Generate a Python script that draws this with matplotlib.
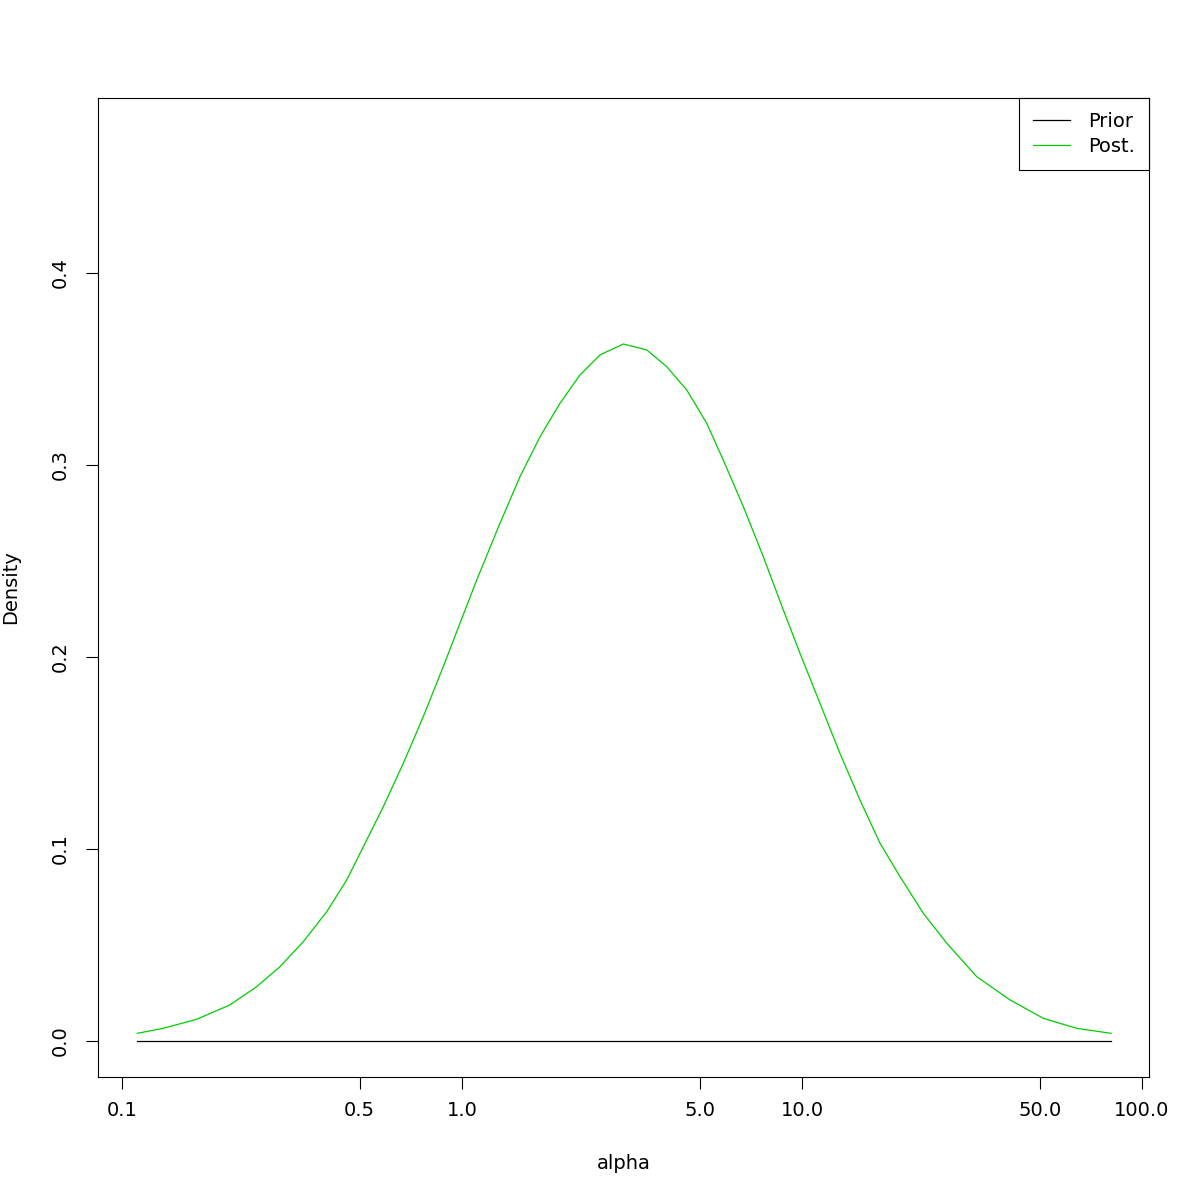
import numpy as np
import matplotlib
matplotlib.use('Agg')
import matplotlib.pyplot as plt

# values (alpha on log axis, posterior density)
alpha = [0.1109, 0.1322, 0.1658, 0.2078, 0.2489, 0.2915, 0.3413, 0.4000, 0.4580, 0.4684,
         0.5868, 0.6720, 0.7693, 0.8810, 0.9865, 1.105, 1.293, 1.481, 1.696,
         1.942, 2.224, 2.546, 2.982, 3.494, 4.000, 4.580, 5.245, 5.868, 6.721,
         7.695, 8.811, 9.865, 11.17, 12.93, 14.81, 16.96, 19.42, 22.74, 26.66,
         32.65, 40.91, 51.27, 64.27, 81.06]
post = [0.0040, 0.0066, 0.0113, 0.0188, 0.0283, 0.0387, 0.0517, 0.0673, 0.0839, 0.0873,
        0.1220, 0.1446, 0.1689, 0.1950, 0.2176, 0.2401, 0.2696, 0.2939, 0.3147,
        0.3321, 0.3469, 0.3573, 0.3630, 0.3599, 0.3512, 0.3391, 0.3217, 0.3025, 0.2783,
        0.2522, 0.2245, 0.2019, 0.1780, 0.1498, 0.1255, 0.1030, 0.0856, 0.0665, 0.0509,
        0.0335, 0.0214, 0.0118, 0.0066, 0.0040]
prior = [0.0] * len(alpha)

xticks = [0.1, 0.5, 1.0, 5.0, 10.0, 50.0, 100.0]
xticklabels = ['0.1', '0.5', '1.0', '5.0', '10.0', '50.0', '100.0']
yticks = [0.0, 0.1, 0.2, 0.3, 0.4]
yticklabels = ['0.0', '0.1', '0.2', '0.3', '0.4']

plt.rcParams['font.family'] = 'DejaVu Sans'

fig = plt.figure(figsize=(12, 12), dpi=100)
ax = fig.add_axes([98/1200, 1-1077/1200, (1149-98)/1200, (1077-98)/1200])

ax.plot(alpha, prior, color='black', lw=0.9, label='Prior')
ax.plot(alpha, post, color='#00CD00', lw=0.9, label='Post.')

ax.set_xscale('log')
ax.set_xlim(10**-1.0706, 10**2.0206)
ax.set_ylim(-0.01875, 0.4911)

ax.set_xticks(xticks)
ax.set_xticklabels(xticklabels)
ax.minorticks_off()
ax.set_yticks(yticks)
ax.set_yticklabels(yticklabels, rotation=90, va='center')

ax.tick_params(direction='out', length=8.5, width=0.8, labelsize=14, pad=9)
ax.tick_params(axis='y', pad=12)
for s in ax.spines.values():
    s.set_linewidth(0.8)

ax.set_xlabel('alpha', fontsize=14, labelpad=24)
ax.set_ylabel('Density', fontsize=14, labelpad=22)

leg = ax.legend(loc='upper right', borderaxespad=0, fancybox=False, edgecolor='black',
                framealpha=1, fontsize=14, handlelength=1.9, handletextpad=0.95,
                borderpad=0.72, labelspacing=0.3)
leg.get_frame().set_linewidth(0.8)

fig.savefig('out.png', dpi=100)
